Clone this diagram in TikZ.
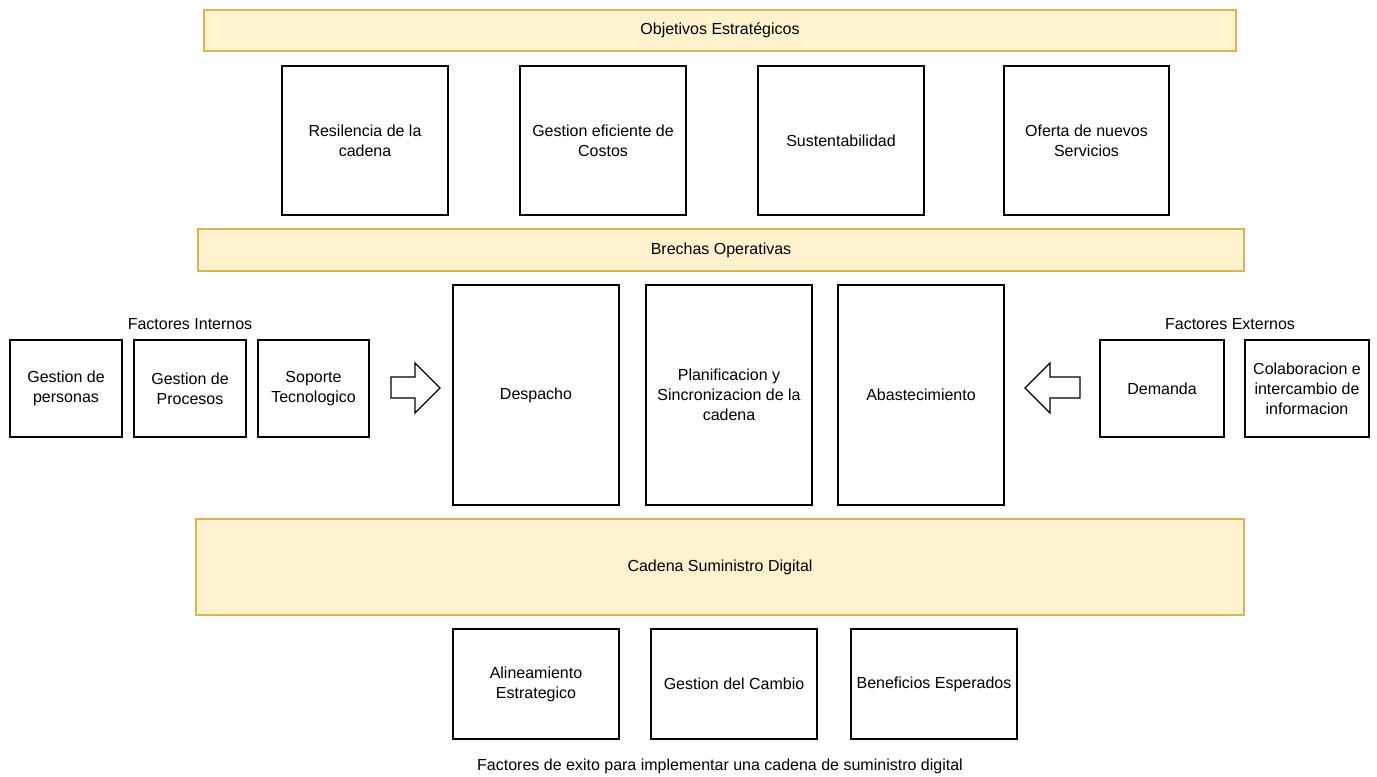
\documentclass[tikz,border=0pt]{standalone}
\usepackage{fontspec}
\setmainfont{Liberation Sans}
\definecolor{bandfill}{HTML}{FFF2CC}
\definecolor{bandline}{HTML}{D6B656}
\tikzset{
  txt/.style={inner sep=0pt, align=center, font=\fontsize{12}{15}\selectfont},
  sz/.style 2 args={minimum width=#1*0.75pt, minimum height=#2*0.75pt},
  box/.style={txt, draw=black, line width=0.9pt, fill=white},
  band/.style={txt, draw=bandline, line width=0.9pt, fill=bandfill},
  lbl/.style={txt},
  bigarrow/.style={draw=black, line width=0.9pt, fill=white, line join=miter}
}
\begin{document}
\begin{tikzpicture}[x=0.75pt, y=-0.75pt]
\useasboundingbox (0,0) rectangle (1377,776);

% strategic objectives
\node[band, sz={1032}{41}] (obj) at (720,30.5) {Objetivos Estratégicos};
\node[box, sz={166}{149}] (res) at (365,140.5) {Resilencia de la\\cadena};
\node[box, sz={166}{149}] (cost) at (603,140.5) {Gestion eficiente de\\Costos};
\node[box, sz={166}{149}] (sus) at (841,140.5) {Sustentabilidad};
\node[box, sz={165}{149}] (ofe) at (1086.5,140.5) {Oferta de nuevos\\Servicios};

% operational gaps
\node[band, sz={1046}{42}] (bre) at (721,250) {Brechas Operativas};

% internal factors
\node[lbl] (fint) at (190,324) {Factores Internos};
\node[box, sz={112}{97}] (per) at (66,388.5) {Gestion de\\personas};
\node[box, sz={112}{97}] (pro) at (190,388.5) {Gestion de\\Procesos};
\node[box, sz={111}{97}] (sop) at (313.5,388.5) {Soporte\\Tecnologico};

% core processes
\node[box, sz={166}{220}] (des) at (536,395) {Despacho};
\node[box, sz={166}{220}] (pla) at (729,395) {Planificacion y\\Sincronizacion de la\\cadena};
\node[box, sz={166}{220}] (aba) at (921,395) {Abastecimiento};

% external factors
\node[lbl] (fext) at (1230,324) {Factores Externos};
\node[box, sz={124}{97}] (dem) at (1162,388.5) {Demanda};
\node[box, sz={124}{97}] (col) at (1307,388.5) {Colaboracion e\\intercambio de\\informacion};

% block arrows
\draw[bigarrow] (391,377) -- (415,377) -- (415,363) -- (440,388) -- (415,413) -- (415,398) -- (391,398) -- cycle;
\draw[bigarrow] (1080,377) -- (1050,377) -- (1050,363) -- (1025,388) -- (1050,413) -- (1050,398) -- (1080,398) -- cycle;

% digital supply chain
\node[band, sz={1048}{96}] (cad) at (720,567) {Cadena Suministro Digital};

% success factors
\node[box, sz={166}{110}] (ali) at (536,684) {Alineamiento\\Estrategico};
\node[box, sz={166}{110}] (cam) at (734,684) {Gestion del Cambio};
\node[box, sz={166}{110}] (ben) at (934,684) {Beneficios Esperados};
\node[lbl] (cap) at (720,766) {Factores de exito para implementar una cadena de suministro digital};
\end{tikzpicture}
\end{document}
